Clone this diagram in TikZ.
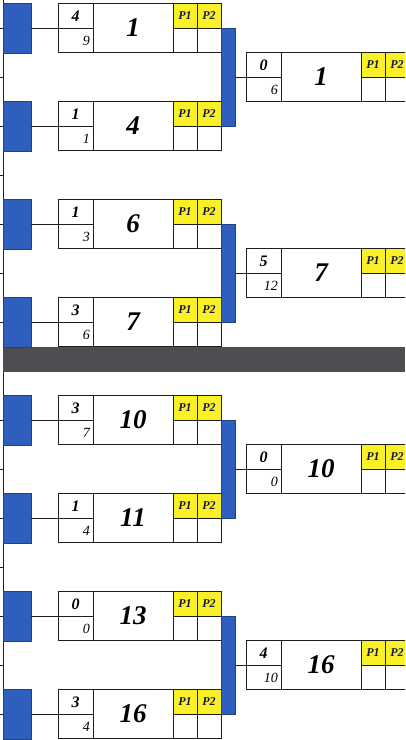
\documentclass[tikz,border=0pt]{standalone}
\usepackage{fontspec}
\setmainfont{Liberation Serif}
\definecolor{blk}{RGB}{46,94,190}
\definecolor{ylw}{RGB}{250,240,40}
\definecolor{band}{RGB}{78,78,82}
\definecolor{ln}{RGB}{30,30,30}
\tikzset{
  frame/.style={draw=ln, line width=0.9pt, inner sep=0pt, minimum width=163pt, minimum height=49pt},
  cell/.style={draw=ln, line width=0.9pt},
  topnum/.style={inner sep=0pt, font=\fontsize{16}{16}\selectfont\bfseries\itshape},
  botnum/.style={inner sep=0pt, font=\fontsize{14}{14}\selectfont\itshape},
  mainnum/.style={inner sep=0pt, font=\fontsize{27}{27}\selectfont\bfseries\itshape},
  ptext/.style={inner sep=0pt, text=ln!80!blue, font=\fontsize{12}{12}\selectfont\bfseries\itshape},
  blueblk/.style={fill=blk, draw=blk!70!black, line width=0.4pt, inner sep=0pt, minimum width=28pt, minimum height=50pt},
  bluebar/.style={fill=blk, draw=blk!70!black, line width=0.4pt, inner sep=0pt, minimum width=14pt},
  conn/.style={draw=ln, line width=0.9pt},
}
\newcommand{\matchbox}[6]{%
\begin{scope}[shift={(#2,#3)}]
  \fill[ylw] (115,-24.5) rectangle (163,0);
  \node[frame, anchor=west] (#1) at (0,0) {};
  \draw[cell] (35,-24.5) -- (35,24.5);
  \draw[cell] (115,-24.5) -- (115,24.5);
  \draw[cell] (139,-24.5) -- (139,24.5);
  \draw[cell] (0,0) -- (35,0);
  \draw[cell] (115,0) -- (163,0);
  \node[topnum] (#1-t) at (17.5,-12) {#4};
  \node[botnum, anchor=east] (#1-b) at (32,12.5) {#5};
  \node[mainnum] (#1-m) at (75,0) {#6};
  \node[ptext] (#1-p1) at (127,-12) {P1};
  \node[ptext] (#1-p2) at (151,-12) {P2};
\end{scope}}
\begin{document}
\begin{tikzpicture}[x=1pt,y=-1pt]
\useasboundingbox (0,0) rectangle (405,740);
\clip (0,0) rectangle (405,740);
\fill[white] (0,0) rectangle (405,740);
% left rule and ticks
\draw[conn] (3,0) -- (3,740);
\foreach \yy in {28,77,126,175,224,273,322,420,469,518,567,616,665,714}
  \draw[conn] (0,\yy) -- (3,\yy);
% band
\node[fill=band, inner sep=0pt, minimum width=402pt, minimum height=25pt, anchor=north west] (band) at (3,347) {};
% round 1 boxes
\matchbox{m1}{58}{28}{4}{9}{1}
\matchbox{m2}{58}{126}{1}{1}{4}
\matchbox{m3}{58}{224}{1}{3}{6}
\matchbox{m4}{58}{322}{3}{6}{7}
\matchbox{m5}{58}{420}{3}{7}{10}
\matchbox{m6}{58}{518}{1}{4}{11}
\matchbox{m7}{58}{616}{0}{0}{13}
\matchbox{m8}{58}{714}{3}{4}{16}
% round 2 boxes
\matchbox{r1}{246}{77}{0}{6}{1}
\matchbox{r2}{246}{273}{5}{12}{7}
\matchbox{r3}{246}{469}{0}{0}{10}
\matchbox{r4}{246}{665}{4}{10}{16}
% blue blocks and connectors
\foreach \n/\yy in {1/28,2/126,3/224,4/322,5/420,6/518,7/616,8/714}{
  \node[blueblk, anchor=west] (b\n) at (3,\yy) {};
  \draw[conn] (b\n.east) -- (m\n.west);
}
% blue bars
\node[bluebar, minimum height=98pt] (bar1) at (228,77) {};
\node[bluebar, minimum height=98pt] (bar2) at (228,273) {};
\node[bluebar, minimum height=98pt] (bar3) at (228,469) {};
\node[bluebar, minimum height=98pt] (bar4) at (228,665) {};
\draw[conn] (bar1.east) -- (r1.west);
\draw[conn] (bar2.east) -- (r2.west);
\draw[conn] (bar3.east) -- (r3.west);
\draw[conn] (bar4.east) -- (r4.west);
\end{tikzpicture}
\end{document}
